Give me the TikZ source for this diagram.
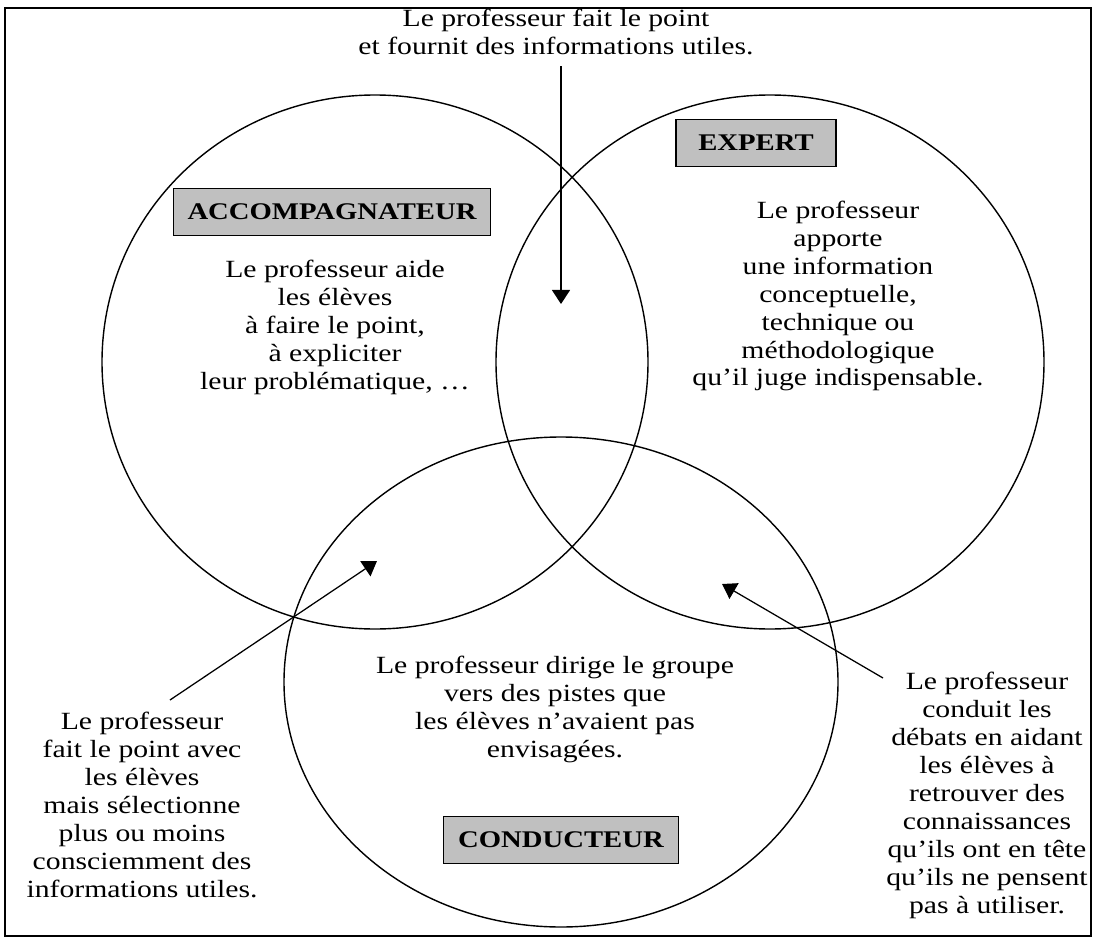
\documentclass[tikz,border=0pt]{standalone}
\usepackage{fontspec}
\setmainfont[FakeStretch=1.2]{Liberation Serif}
\usetikzlibrary{arrows.meta}
\definecolor{grisboite}{RGB}{192,192,192}

\begin{document}
\begin{tikzpicture}[x=0.025cm, y=-0.025cm,
    texte/.style={align=center, inner sep=0pt, font=\fontsize{17.6}{19.9}\selectfont},
    role/.style={draw, fill=grisboite, line width=0.8pt, inner xsep=0.36cm, minimum height=1.17cm, font=\fontsize{17}{19.9}\selectfont\bfseries},
    fleche/.style={line width=0.9pt, -{Triangle[length=0.35cm, width=0.45cm]}}]
        \useasboundingbox (0,0) rectangle (1094,940);

        % cadre
        \draw[line width=1.8pt] (5,8) rectangle (1091,936);

        % centres des trois cercles
        \coordinate (A) at (375,362);
        \coordinate (E) at (770,362);
        \coordinate (C) at (561,682);

        % cercles
        \draw[line width=1pt] (A) ellipse [x radius=273, y radius=267];
        \draw[line width=1pt] (E) ellipse [x radius=274, y radius=267];
        \draw[line width=1pt] (C) ellipse [x radius=277, y radius=245];

        % roles
        \node[role] (accomp) at (332,212) {ACCOMPAGNATEUR};
        \node[role, minimum width=4cm] (expert) at (756,143) {EXPERT};
        \node[role] (conduct) at (561,840) {CONDUCTEUR};

        % textes
        \node[texte] (titre) at (556,32) {Le professeur fait le point\\et fournit des informations utiles.};
        \node[texte] (txtA) at (335,327) {Le professeur aide\\les élèves\\à faire le point,\\à expliciter\\leur problématique, \ldots};
        \node[texte] (txtE) at (838,296) {Le professeur\\apporte\\une information\\conceptuelle,\\technique ou\\méthodologique\\qu’il juge indispensable.};
        \node[texte] (txtC) at (555,709) {Le professeur dirige le groupe\\vers des pistes que\\les élèves n’avaient pas\\envisagées.};
        \node[texte] (gauche) at (142,805) {Le professeur\\fait le point avec\\les élèves\\mais sélectionne\\plus ou moins\\consciemment des\\informations utiles.};
        \node[texte] (droite) at (987,795) {Le professeur\\conduit les\\débats en aidant\\les élèves à\\retrouver des\\connaissances\\qu’ils ont en tête\\qu’ils ne pensent\\pas à utiliser.};

        % fleches
        \coordinate (h1) at (561,66);
        \coordinate (h2) at (561,304);
        \coordinate (g1) at (170,700);
        \coordinate (g2) at (377,561);
        \coordinate (d1) at (883,678);
        \coordinate (d2) at (722,584);
        \draw[fleche] (h1) -- (h2);
        \draw[fleche] (g1) -- (g2);
        \draw[fleche] (d1) -- (d2);
    \end{tikzpicture}
\end{document}
